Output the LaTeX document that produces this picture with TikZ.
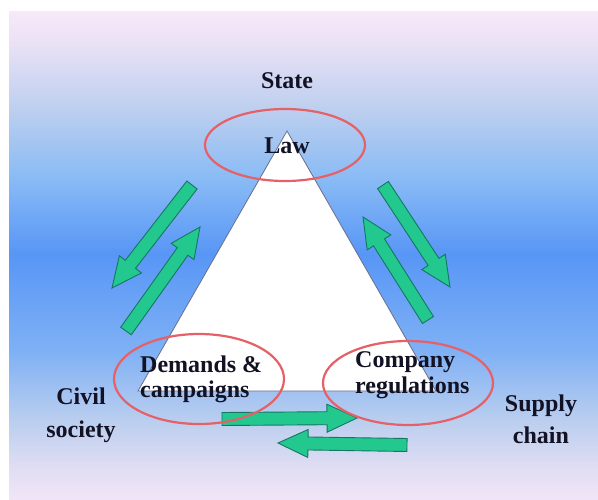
\documentclass[tikz,border=0pt]{standalone}
\usepackage{fontspec}
\setmainfont{Liberation Serif}
\usetikzlibrary{calc}
\definecolor{bgA}{RGB}{240,229,247}
\definecolor{bgB}{RGB}{226,222,243}
\definecolor{bgC}{RGB}{186,206,239}
\definecolor{bgD}{RGB}{126,176,245}
\definecolor{bgE}{RGB}{88,150,246}
\definecolor{bgF}{RGB}{136,186,245}
\definecolor{bgG}{RGB}{188,207,239}
\definecolor{bgH}{RGB}{236,226,246}
\definecolor{bgI}{RGB}{246,233,249}
\definecolor{arrfill}{RGB}{34,200,142}
\definecolor{arrline}{RGB}{22,118,100}
\definecolor{ellred}{RGB}{230,96,104}
\definecolor{triline}{RGB}{100,110,140}
\definecolor{txt}{RGB}{18,18,36}
\pgfdeclareverticalshading{bgshade}{100bp}{color(0bp)=(bgA); color(25bp)=(bgA); color(27.97bp)=(bgB); color(33.1bp)=(bgC); color(40.27bp)=(bgD); color(50.1bp)=(bgE); color(57.7bp)=(bgF); color(64.85bp)=(bgG); color(72.03bp)=(bgH); color(75bp)=(bgI); color(100bp)=(bgI)}
\newcommand\blockarr[2]{%
  \coordinate (#1h) at ($(#2)!30pt!(#1)$);
  \draw[greenarrow] ($(#1)!6.5pt!90:(#2)$) -- ($(#1h)!6.5pt!90:(#2)$) -- ($(#1h)!14pt!90:(#2)$) -- (#2)
    -- ($(#1h)!14pt!-90:(#2)$) -- ($(#1h)!6.5pt!-90:(#2)$) -- ($(#1)!6.5pt!-90:(#2)$) -- cycle;}
\tikzset{
  greenarrow/.style={fill=arrfill, draw=arrline, line width=0.9pt, line join=miter},
  lbl/.style={font=\bfseries\fontsize{24}{26}\selectfont, text=txt, inner sep=0pt},
  redell/.style={draw=ellred, line width=2.2pt},
}
\begin{document}
\begin{tikzpicture}[x=1pt,y=-1pt]
\useasboundingbox (0,0) rectangle (598,499);
\fill[white] (0,0) rectangle (598,499);
\shade[shading=bgshade] (9,11) rectangle (598,499);
% triangle
\coordinate (apex) at (287,131);
\coordinate (bl) at (138,391);
\coordinate (br) at (436,391);
\draw[fill=white, draw=triline, line width=0.8pt] (apex) -- (bl) -- (br) -- cycle;
% arrows
\coordinate (a1s) at (192,185); \coordinate (a1e) at (112,288);
\coordinate (a2s) at (126,331); \coordinate (a2e) at (200,227);
\coordinate (a3s) at (383,185); \coordinate (a3e) at (450,287);
\coordinate (a4s) at (428,320); \coordinate (a4e) at (363,217);
\coordinate (a5s) at (222,419); \coordinate (a5e) at (357,418);
\coordinate (a6s) at (407,445); \coordinate (a6e) at (278,443);
\blockarr{a1s}{a1e}
\blockarr{a2s}{a2e}
\blockarr{a3s}{a3e}
\blockarr{a4s}{a4e}
\blockarr{a5s}{a5e}
\blockarr{a6s}{a6e}
% labels
\node[lbl, anchor=base] (state) at (287,88) {State};
\node[lbl, anchor=base] (law) at (287,153) {Law};
\node[lbl, anchor=base west] (dem) at (140,372) {Demands \&};
\node[lbl, anchor=base west] (camp) at (140,397) {campaigns};
\node[lbl, anchor=base west] (comp) at (355,367) {Company};
\node[lbl, anchor=base west] (regs) at (355,393) {regulations};
\node[lbl, anchor=base] (civil) at (81,404) {Civil};
\node[lbl, anchor=base] (society) at (81,437) {society};
\node[lbl, anchor=base] (supply) at (541,411) {Supply};
\node[lbl, anchor=base] (chain) at (541,443) {chain};
% ellipses
\draw[redell] (285,145) ellipse [x radius=80, y radius=36];
\draw[redell] (199,379) ellipse [x radius=85, y radius=45];
\draw[redell] (408,383) ellipse [x radius=85, y radius=42];
\end{tikzpicture}
\end{document}
